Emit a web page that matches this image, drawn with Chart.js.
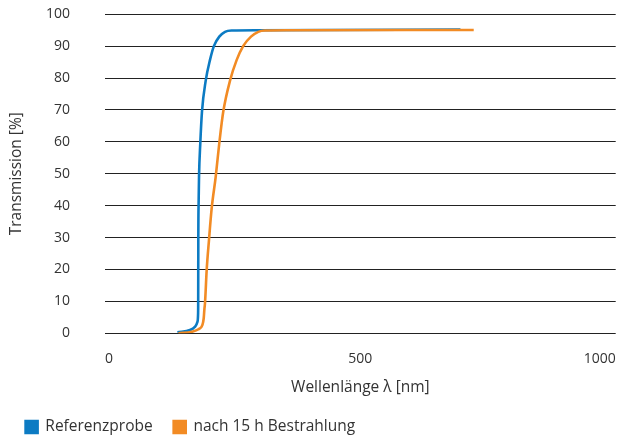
<!DOCTYPE html>
<html>
<head>
<meta charset="utf-8">
<script src="https://cdn.jsdelivr.net/npm/chart.js@4"></script>
<style>
    html, body { margin: 0; padding: 0; background: #fff; }
    #wrap { width: 617px; height: 437px; }
</style>
</head>
<body>
<div id="wrap"><canvas id="transChart" width="617" height="437"></canvas></div>
<script>
// Wellenlänge [nm] und Transmission [%]
const refWavelength = [141.8, 166.5, 176.5, 181, 182.3, 182.5, 182.7, 183.4, 184.1, 186.6, 189.9, 197.2, 205.6, 213.4, 223.8, 235, 248.1, 300, 696];
const refTransmission = [0.3, 1.0, 2.1, 3.6, 6.3, 10.4, 28.3, 41.8, 49.1, 59.6, 69.5, 79.2, 85.7, 90.1, 93.0, 94.5, 94.9, 95.0, 95.2];

const irrWavelength = [143.7, 170, 183, 190.8, 193.3, 194.6, 195.8, 199.1, 203.6, 208.9, 216.8, 223.8, 231.6, 244.8, 257.9, 270.8, 285.9, 300.2, 313.3, 360, 722];
const irrTransmission = [0, 0.5, 1.25, 2.6, 4.7, 7.5, 9.4, 19.8, 29.2, 39.2, 49.1, 59.6, 69.5, 79.2, 85.7, 90.1, 93.0, 94.5, 94.9, 95.0, 95.1];

const xTicks = [0, 500, 1000];
const seriesNames = ['Referenzprobe', 'nach 15 h Bestrahlung'];
const seriesColors = ['#0c7bc3', '#f28b24'];

const toPoints = (xs, ys) => xs.map((x, i) => ({ x: x, y: ys[i] }));

const tickFont = { family: '"Open Sans", sans-serif', size: 14 };
const titleFont = { family: '"Open Sans", sans-serif', size: 15.5 };
const textColor = '#333';

const ctx = document.getElementById('transChart').getContext('2d');
new Chart(ctx, {
    type: 'line',
    data: {
        datasets: [
            {
                label: seriesNames[0],
                data: toPoints(refWavelength, refTransmission),
                borderColor: seriesColors[0],
                backgroundColor: seriesColors[0],
                borderWidth: 2.6,
                pointRadius: 0,
                cubicInterpolationMode: 'monotone',
                order: 2
            },
            {
                label: seriesNames[1],
                data: toPoints(irrWavelength, irrTransmission),
                borderColor: seriesColors[1],
                backgroundColor: seriesColors[1],
                borderWidth: 2.6,
                pointRadius: 0,
                cubicInterpolationMode: 'monotone',
                order: 1
            }
        ]
    },
    options: {
        responsive: false,
        animation: false,
        layout: { padding: { top: 14.3, right: 0, bottom: -7.7, left: 4.6 } },
        plugins: {
            tooltip: { enabled: false },
            legend: {
                position: 'bottom',
                align: 'start',
                labels: {
                    font: titleFont,
                    color: textColor,
                    boxWidth: 12,
                    boxHeight: 12,
                    padding: 21,
                    sort: (a, b) => a.datasetIndex - b.datasetIndex
                }
            }
        },
        scales: {
            x: {
                type: 'linear',
                min: 0,
                max: 1000,
                afterBuildTicks: scale => { scale.ticks = xTicks.map(v => ({ value: v })); },
                grid: { drawOnChartArea: false, tickLength: 15.7, tickColor: 'rgba(0,0,0,0)' },
                border: { display: false },
                ticks: { font: tickFont, color: textColor, align: 'inner', padding: 1.3, maxRotation: 0, callback: v => String(v) },
                title: { display: true, text: 'Wellenlänge λ [nm]', font: titleFont, color: textColor, padding: { top: 10.3, bottom: 0.95 } }
            },
            y: {
                min: 0,
                max: 100,
                afterFit: scale => { scale.width = 100.4; },
                ticks: { stepSize: 10, font: tickFont, color: textColor, padding: 2 },
                grid: { color: '#222', lineWidth: 1.1, tickLength: 33, tickColor: 'rgba(0,0,0,0)' },
                border: { display: false },
                title: { display: true, text: 'Transmission [%]', font: titleFont, color: textColor, padding: { top: 3.1, bottom: 0 } }
            }
        }
    }
});
</script>
</body>
</html>
